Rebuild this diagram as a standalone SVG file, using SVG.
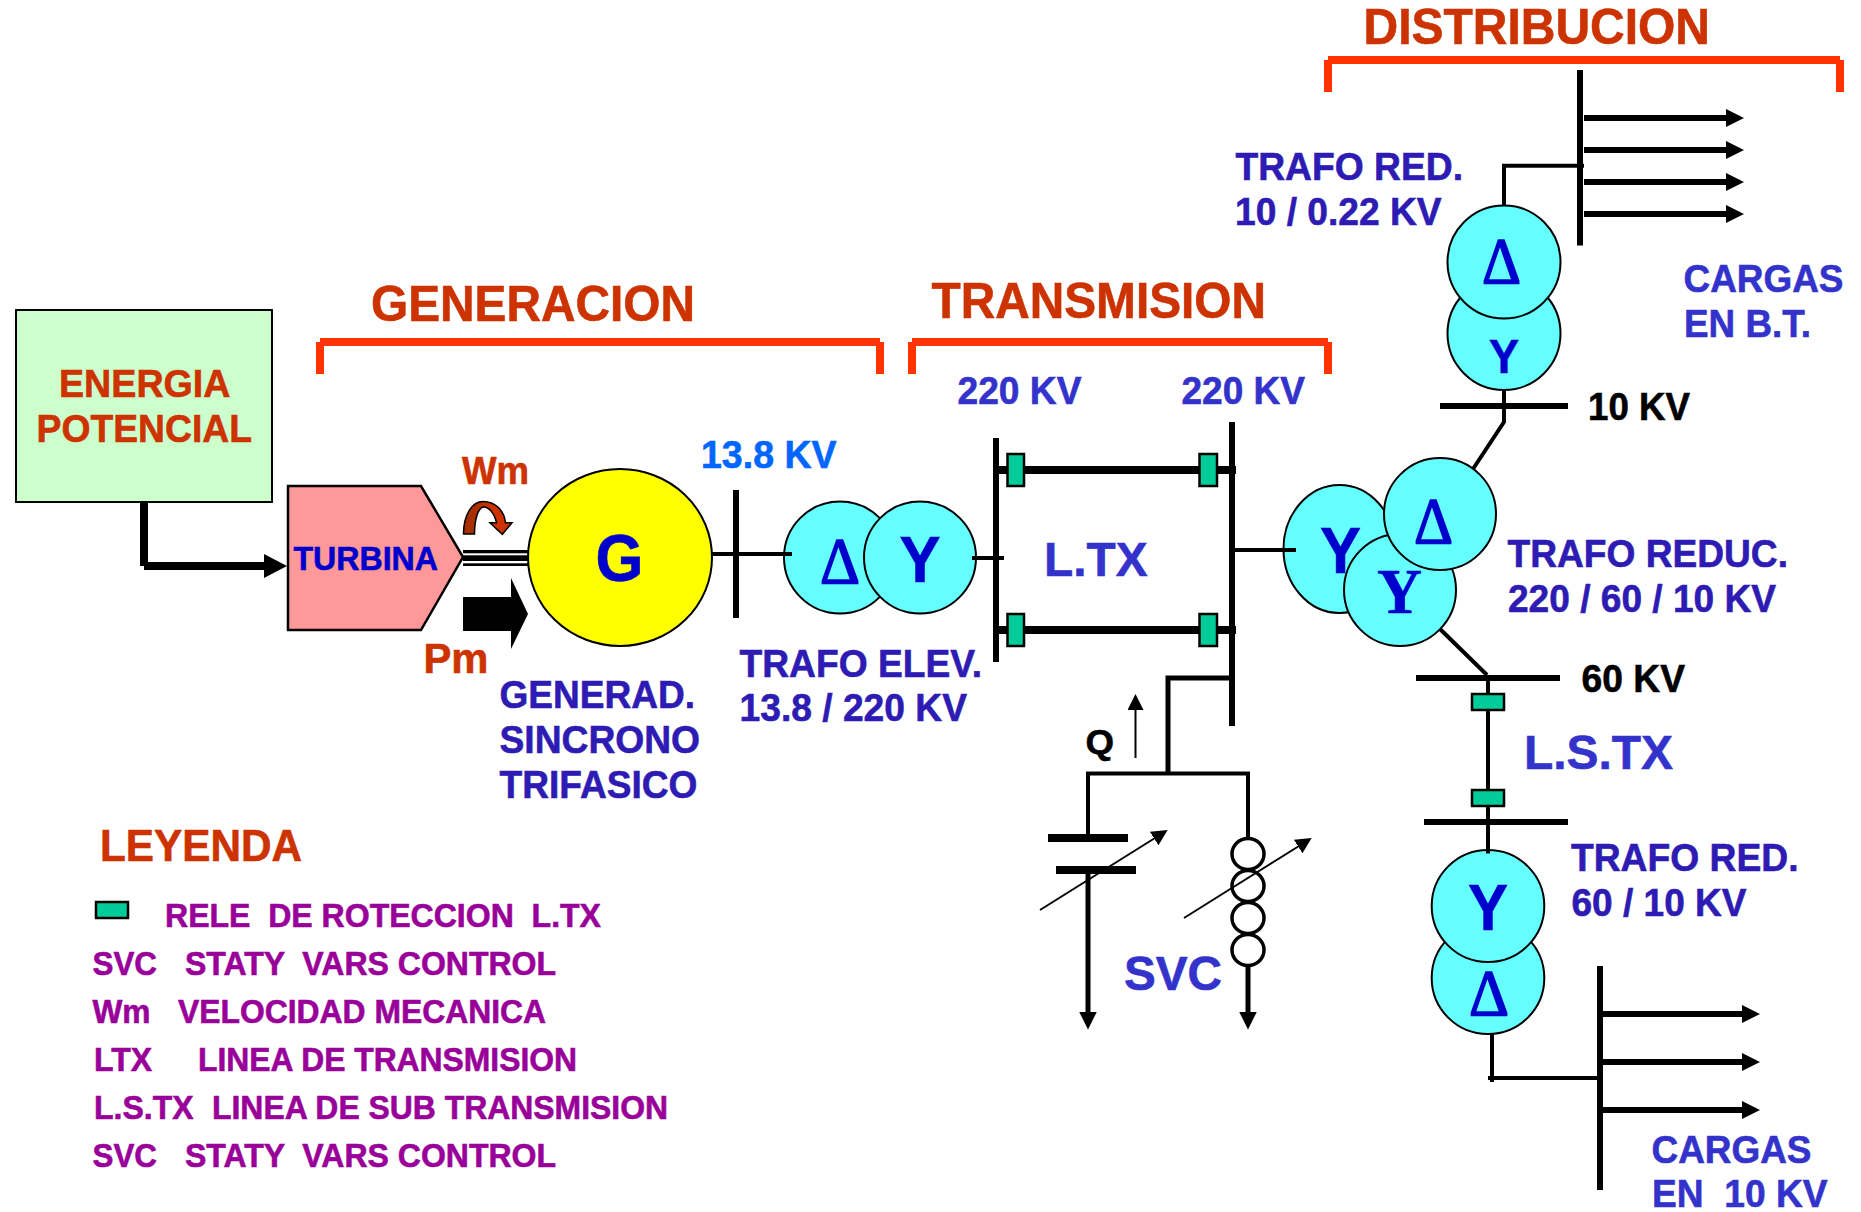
<svg xmlns="http://www.w3.org/2000/svg" width="1861" height="1212" viewBox="0 0 1861 1212">
<style>
text{font-family:"Liberation Sans",Arial,sans-serif;font-weight:bold;white-space:pre;stroke-width:.6}
.red{fill:#cc3300;stroke:#cc3300}.blue{fill:#3333cc;stroke:#3333cc}.navy{fill:#2d1bb3;stroke:#2d1bb3}.sky{fill:#0066ff;stroke:#0066ff}.deep{fill:#0000cc;stroke:#0000cc}.blk{fill:#000;stroke:#000}.leg{fill:#990099;stroke:#990099;font-size:33px}
.dl{font-family:"Liberation Serif",serif;font-weight:normal;fill:#0000cc;stroke:#0000cc;stroke-width:1.6}
.f50{font-size:50px}.f48{font-size:48px}.f38{font-size:38.5px}
.ln{stroke:#000;fill:none}
.w2{stroke-width:2}.w4{stroke-width:4}.w5{stroke-width:5}.w6{stroke-width:6}.w8{stroke-width:8}
.br{stroke:#ff3300;stroke-width:8;fill:none}
.tr{fill:#66ffff;stroke:#000;stroke-width:2}
.rel{fill:#00cc99;stroke:#000;stroke-width:2.5}
.coil{fill:#fff;stroke:#000;stroke-width:3.5}
</style>
<defs>
<marker id="mLoad" markerUnits="userSpaceOnUse" viewBox="0 0 18 18" markerWidth="18" markerHeight="18" refX="1" refY="9" orient="auto"><path d="M0 0L18 9L0 18Z"/></marker>
<marker id="mFeed" markerUnits="userSpaceOnUse" viewBox="0 0 23 24" markerWidth="23" markerHeight="24" refX="1" refY="12" orient="auto"><path d="M0 0L23 12L0 24Z"/></marker>
<marker id="mThin" markerUnits="userSpaceOnUse" viewBox="0 0 16 16" markerWidth="16" markerHeight="16" refX="1" refY="8" orient="auto"><path d="M0 0L16 8L0 16Z"/></marker>
<linearGradient id="gw" x1="0" x2="1" y1="0" y2="0"><stop offset="0.25" stop-color="#a83000"/><stop offset="0.6" stop-color="#cc3300"/></linearGradient>
</defs>
<rect width="1861" height="1212" fill="#fff"/>

<g id="bracket-generacion" class="br"><path d="M320 342H880M320 342V374M880 342V374"/></g>
<g id="bracket-transmision" class="br"><path d="M912 342H1328M912 342V374M1328 342V374"/></g>
<g id="bracket-distribucion" class="br"><path d="M1328 60H1840M1328 60V92M1840 60V92"/></g>

<g id="titles">
<text class="red f50" x="371" y="321" textLength="324" lengthAdjust="spacingAndGlyphs">GENERACION</text>
<text class="red f50" x="931.5" y="318" textLength="334.5" lengthAdjust="spacingAndGlyphs">TRANSMISION</text>
<text class="red f50" x="1363.5" y="43.5" textLength="346.5" lengthAdjust="spacingAndGlyphs">DISTRIBUCION</text>
</g>

<g id="energia">
<rect x="16" y="310" width="256" height="192" fill="#ccffcc" stroke="#000" stroke-width="2"/>
<text class="red f38" x="59" y="396.5" textLength="171.5" lengthAdjust="spacingAndGlyphs">ENERGIA</text>
<text class="red f38" x="36.5" y="441.5" textLength="215.5" lengthAdjust="spacingAndGlyphs">POTENCIAL</text>
</g>

<g id="turbina">
<path d="M288 486H421L463 557L421 630H288Z" fill="#ff9999" stroke="#000" stroke-width="2.5"/>
<text class="deep" font-size="33" x="293.5" y="569.5" textLength="144.5" lengthAdjust="spacingAndGlyphs">TURBINA</text>
</g>

<g id="eje">
<rect x="463" y="550" width="66" height="3.3"/><rect x="463" y="555.3" width="66" height="5.7"/><rect x="463" y="563.3" width="66" height="2.7"/>
<path d="M463.5 534C463.5 515 472 501.5 483 501.5C495 501.5 504 510 505.5 522.7L512 522.7L502.3 534.3L490 522.7L496.5 522.7C494 512 488 507 484 507C478 507 474.5 520 474.5 534Z" fill="url(#gw)" stroke="#000" stroke-width="1.5"/>
<text class="red" font-size="39" x="462" y="483.5" textLength="67" lengthAdjust="spacingAndGlyphs">Wm</text>
<path d="M463 597H511V578L528 614L511 649V631H463Z" fill="#000"/>
<text class="red" font-size="42" x="423.5" y="672.5" textLength="65" lengthAdjust="spacingAndGlyphs">Pm</text>
</g>

<g id="generador">
<ellipse cx="620" cy="557.5" rx="92" ry="88.5" fill="#ffff00" stroke="#000" stroke-width="2"/>
<text class="deep" font-size="66" x="595.5" y="581" textLength="48" lengthAdjust="spacingAndGlyphs">G</text>
<text class="navy f38" x="499.5" y="708" textLength="195.5" lengthAdjust="spacingAndGlyphs">GENERAD.</text>
<text class="navy f38" x="499.5" y="753" textLength="200.5" lengthAdjust="spacingAndGlyphs">SINCRONO</text>
<text class="navy f38" x="499.5" y="798" textLength="198" lengthAdjust="spacingAndGlyphs">TRIFASICO</text>
</g>

<g id="trafo-elev">
<ellipse class="tr" cx="840" cy="557.5" rx="56" ry="56"/>
<ellipse class="tr" cx="920" cy="557.5" rx="56" ry="56"/>
<text class="dl" font-size="66" x="820" y="583" textLength="40" lengthAdjust="spacingAndGlyphs">Δ</text>
<text class="deep" font-size="64" x="899.5" y="582" textLength="41" lengthAdjust="spacingAndGlyphs">Y</text>
<text class="navy f38" x="739.5" y="676.5" textLength="242.5" lengthAdjust="spacingAndGlyphs">TRAFO ELEV.</text>
<text class="navy f38" x="739.5" y="720.5" textLength="227.5" lengthAdjust="spacingAndGlyphs">13.8 / 220 KV</text>
<text class="sky f38" x="701" y="468" textLength="135.5" lengthAdjust="spacingAndGlyphs">13.8 KV</text>
</g>

<g id="trafo-reduc">
<ellipse class="tr" cx="1339.5" cy="549" rx="56" ry="64"/>
<text class="deep" font-size="64" x="1320" y="573" textLength="41" lengthAdjust="spacingAndGlyphs">Y</text>
<ellipse class="tr" cx="1400" cy="590" rx="56" ry="56"/>
<text class="deep" font-size="64" x="1377" y="613" textLength="45" lengthAdjust="spacingAndGlyphs" style="font-family:'Liberation Serif',serif">Y</text>
<ellipse class="tr" cx="1440" cy="514" rx="56" ry="56"/>
<text class="dl" font-size="66" x="1414" y="543" textLength="39" lengthAdjust="spacingAndGlyphs">Δ</text>
<text class="navy f38" x="1507.5" y="566.5" textLength="280.5" lengthAdjust="spacingAndGlyphs">TRAFO REDUC.</text>
<text class="navy f38" x="1508" y="611.5" textLength="268" lengthAdjust="spacingAndGlyphs">220 / 60 / 10 KV</text>
</g>

<g id="trafo-red-bt">
<ellipse class="tr" cx="1504" cy="333.5" rx="56.5" ry="56.5"/>
<ellipse class="tr" cx="1504" cy="262" rx="56.5" ry="56.5"/>
<text class="dl" font-size="66" x="1482" y="282.5" textLength="39" lengthAdjust="spacingAndGlyphs">Δ</text>
<text class="deep" font-size="48" x="1489" y="373" textLength="30" lengthAdjust="spacingAndGlyphs">Y</text>
<text class="navy f38" x="1235.5" y="179.5" textLength="227.5" lengthAdjust="spacingAndGlyphs">TRAFO RED.</text>
<text class="navy f38" x="1235" y="224.5" textLength="206.5" lengthAdjust="spacingAndGlyphs">10 / 0.22 KV</text>
</g>

<g id="trafo-red-10">
<ellipse class="tr" cx="1488" cy="978" rx="56.3" ry="56"/>
<ellipse class="tr" cx="1488" cy="906" rx="56.3" ry="56"/>
<text class="deep" font-size="64" x="1468" y="930" textLength="40" lengthAdjust="spacingAndGlyphs">Y</text>
<text class="dl" font-size="66" x="1469" y="1015" textLength="40" lengthAdjust="spacingAndGlyphs">Δ</text>
<text class="navy f38" x="1571" y="870.5" textLength="227.5" lengthAdjust="spacingAndGlyphs">TRAFO RED.</text>
<text class="navy f38" x="1571.5" y="915.5" textLength="175" lengthAdjust="spacingAndGlyphs">60 / 10 KV</text>
</g>

<g id="connectors">
<line class="ln w8" x1="144" y1="502" x2="144" y2="566"/>
<line class="ln w8" x1="144" y1="566" x2="265" y2="566" marker-end="url(#mFeed)"/>
<line class="ln w4" x1="712" y1="554" x2="792" y2="554"/>
<line class="ln w4" x1="972" y1="558" x2="1004" y2="558"/>
<line class="ln w8" x1="996" y1="470" x2="1236" y2="470"/>
<line class="ln w8" x1="996" y1="630" x2="1236" y2="630"/>
<line class="ln w4" x1="1232" y1="550" x2="1296" y2="550"/>
<path class="ln w5" d="M1232 678H1168V774"/>
<path class="ln w4" d="M1088 836V773.5H1248V840"/>
<line class="ln w5" x1="1088" y1="870" x2="1088" y2="1012.5" marker-end="url(#mLoad)"/>
<line class="ln w5" x1="1248" y1="966" x2="1248" y2="1012.5" marker-end="url(#mLoad)"/>
<line class="ln w2" x1="1135.5" y1="758" x2="1135.5" y2="709" marker-end="url(#mThin)"/>
<path class="ln w4" d="M1504 205V165.7H1584"/>
<path class="ln w4" d="M1504 390V422L1473 469"/>
<line class="ln w4" x1="1440" y1="629" x2="1487" y2="675"/>
<line class="ln w4" x1="1488" y1="678" x2="1488" y2="853.5"/>
<path class="ln w4" d="M1492 1034V1082M1488 1078H1600"/>
<line class="ln w6" x1="1584" y1="118" x2="1727" y2="118" marker-end="url(#mLoad)"/>
<line class="ln w6" x1="1584" y1="150" x2="1727" y2="150" marker-end="url(#mLoad)"/>
<line class="ln w6" x1="1584" y1="182" x2="1727" y2="182" marker-end="url(#mLoad)"/>
<line class="ln w6" x1="1584" y1="214" x2="1727" y2="214" marker-end="url(#mLoad)"/>
<line class="ln w6" x1="1600" y1="1014" x2="1743" y2="1014" marker-end="url(#mLoad)"/>
<line class="ln w6" x1="1600" y1="1062" x2="1743" y2="1062" marker-end="url(#mLoad)"/>
<line class="ln w6" x1="1600" y1="1110" x2="1743" y2="1110" marker-end="url(#mLoad)"/>
</g>

<g id="barras">
<line class="ln w6" x1="736" y1="490" x2="736" y2="618"/>
<line class="ln w6" x1="996" y1="438" x2="996" y2="662"/>
<line class="ln w6" x1="1232" y1="422" x2="1232" y2="726"/>
<line class="ln w6" x1="1580" y1="70" x2="1580" y2="245.5"/>
<line class="ln w6" x1="1440" y1="406" x2="1568" y2="406"/>
<line class="ln w6" x1="1416" y1="678" x2="1560" y2="678"/>
<line class="ln w6" x1="1424" y1="822" x2="1568" y2="822"/>
<line class="ln w6" x1="1600" y1="966" x2="1600" y2="1190"/>
</g>

<g id="reles">
<rect class="rel" x="1007.5" y="454" width="16.5" height="32"/>
<rect class="rel" x="1199.5" y="454" width="17.5" height="32"/>
<rect class="rel" x="1007.5" y="614" width="16.5" height="32"/>
<rect class="rel" x="1199.5" y="614" width="17.5" height="32"/>
<rect class="rel" x="1472" y="694" width="32" height="16"/>
<rect class="rel" x="1472" y="790" width="32" height="16"/>
</g>

<g id="svc">
<line class="ln w8" x1="1048" y1="838" x2="1128" y2="838"/>
<line class="ln w8" x1="1056" y1="870" x2="1136" y2="870"/>
<ellipse class="coil" cx="1248" cy="854" rx="16" ry="15.5"/>
<ellipse class="coil" cx="1248" cy="886" rx="16" ry="15.5"/>
<ellipse class="coil" cx="1248" cy="918" rx="16" ry="15.5"/>
<ellipse class="coil" cx="1248" cy="950" rx="16" ry="15.5"/>
<line class="ln w2" x1="1040" y1="910" x2="1155" y2="838" marker-end="url(#mThin)"/>
<line class="ln w2" x1="1184" y1="918" x2="1299" y2="846" marker-end="url(#mThin)"/>
<text class="blk" font-size="35" x="1085.5" y="754" textLength="28.5" lengthAdjust="spacingAndGlyphs">Q</text>
<text class="blue f48" x="1124" y="989.5" textLength="98" lengthAdjust="spacingAndGlyphs">SVC</text>
</g>

<g id="etiquetas">
<text class="blue f38" x="957.5" y="404" textLength="124" lengthAdjust="spacingAndGlyphs">220 KV</text>
<text class="blue f38" x="1181.5" y="404" textLength="123.5" lengthAdjust="spacingAndGlyphs">220 KV</text>
<text class="blue f48" x="1044" y="576" textLength="103.5" lengthAdjust="spacingAndGlyphs">L.TX</text>
<text class="blue f48" x="1524" y="768.5" textLength="149" lengthAdjust="spacingAndGlyphs">L.S.TX</text>
<text class="blk f38" x="1588" y="420" textLength="102" lengthAdjust="spacingAndGlyphs">10 KV</text>
<text class="blk f38" x="1581.5" y="692" textLength="103.5" lengthAdjust="spacingAndGlyphs">60 KV</text>
<text class="blue f38" x="1683.5" y="291.5" textLength="160" lengthAdjust="spacingAndGlyphs">CARGAS</text>
<text class="blue f38" x="1684" y="336.5" textLength="127" lengthAdjust="spacingAndGlyphs">EN B.T.</text>
<text class="blue f38" x="1651.5" y="1162.5" textLength="160" lengthAdjust="spacingAndGlyphs">CARGAS</text>
<text class="blue f38" x="1652" y="1207" textLength="175.5" lengthAdjust="spacingAndGlyphs">EN  10 KV</text>
</g>

<g id="leyenda">
<text class="red" font-size="43.5" x="100" y="860.5" textLength="202" lengthAdjust="spacingAndGlyphs">LEYENDA</text>
<rect class="rel" x="96" y="902" width="32" height="16"/>
<text class="leg" x="165" y="926.5" textLength="436" lengthAdjust="spacingAndGlyphs">RELE  DE ROTECCION  L.TX</text>
<text class="leg" y="975"><tspan x="92.5" textLength="64.5" lengthAdjust="spacingAndGlyphs">SVC</tspan><tspan x="185" textLength="371" lengthAdjust="spacingAndGlyphs">STATY  VARS CONTROL</tspan></text>
<text class="leg" y="1022.5"><tspan x="92.5" textLength="58" lengthAdjust="spacingAndGlyphs">Wm</tspan><tspan x="178" textLength="368" lengthAdjust="spacingAndGlyphs">VELOCIDAD MECANICA</tspan></text>
<text class="leg" y="1070.5"><tspan x="94" textLength="58" lengthAdjust="spacingAndGlyphs">LTX</tspan><tspan x="198" textLength="379" lengthAdjust="spacingAndGlyphs">LINEA DE TRANSMISION</tspan></text>
<text class="leg" y="1118.5"><tspan x="94" textLength="99.5" lengthAdjust="spacingAndGlyphs">L.S.TX</tspan><tspan x="212" textLength="456" lengthAdjust="spacingAndGlyphs">LINEA DE SUB TRANSMISION</tspan></text>
<text class="leg" y="1166.5"><tspan x="92.5" textLength="64.5" lengthAdjust="spacingAndGlyphs">SVC</tspan><tspan x="185" textLength="371" lengthAdjust="spacingAndGlyphs">STATY  VARS CONTROL</tspan></text>
</g>
</svg>
